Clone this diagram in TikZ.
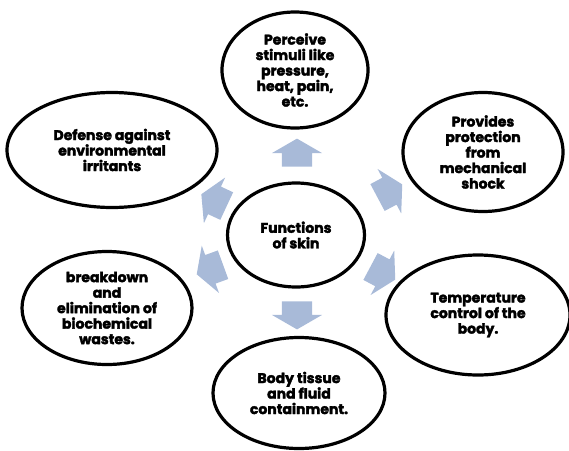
\documentclass[tikz,border=0pt]{standalone}
\usepackage{fontspec}
\setmainfont{Poppins}[BoldFeatures={FakeBold=2.5}]
\usepackage{tikz}
\usetikzlibrary{shapes.geometric, shapes.arrows, positioning}

\definecolor{arrowblue}{RGB}{168,186,216}

\begin{document}
\begin{tikzpicture}[
            x=1pt, y=-1pt,
            % Define node styles
            func/.style={ellipse, draw, line width=3.2pt, align=center, inner sep=0pt,
                font=\bfseries\fontsize{14}{15.5}\selectfont},
            hub/.style={func, minimum width=137pt, minimum height=104pt},
            blockarrow/.style={single arrow, fill=arrowblue, draw=none, inner xsep=0pt,
                inner ysep=15pt, minimum height=28pt, single arrow head extend=10pt,
                single arrow tip angle=120}
        ]
        \useasboundingbox (0,0) rectangle (569,450);

        % Centre
        \node[hub] (skin) at (296,235) {Functions\\of skin};

        % Surrounding functions
        \node[func, minimum width=146pt, minimum height=116pt] (perceive) at (295,70)
            {Perceive\\stimuli like\\pressure,\\heat, pain,\\etc.};
        \node[func, minimum width=210pt, minimum height=115pt] (defense) at (112,150)
            {Defense against\\environmental\\irritants};
        \node[func, minimum width=160pt, minimum height=119pt] (protect) at (483,152)
            {Provides\\protection\\from\\mechanical\\shock};
        \node[func, minimum width=170pt, minimum height=113pt] (waste) at (107,308)
            {breakdown\\and\\elimination of\\biochemical\\wastes.};
        \node[func, minimum width=184pt, minimum height=120pt] (temp) at (478,315)
            {Temperature\\control of the\\body.};
        \node[func, minimum width=172pt, minimum height=111pt] (tissue) at (299,393)
            {Body tissue\\and fluid\\containment.};

        % Block arrows
        \node[blockarrow, rotate=90] (toperceive) at (297,157) {};
        \node[blockarrow, rotate=155] (todefense) at (218,202) {};
        \node[blockarrow, rotate=28] (toprotect) at (386,193) {};
        \node[blockarrow, rotate=200] (towaste) at (214,268) {};
        \node[blockarrow, rotate=-28] (totemp) at (379,271) {};
        \node[blockarrow, rotate=-90] (totissue) at (297,311) {};

        \end{tikzpicture}
\end{document}
